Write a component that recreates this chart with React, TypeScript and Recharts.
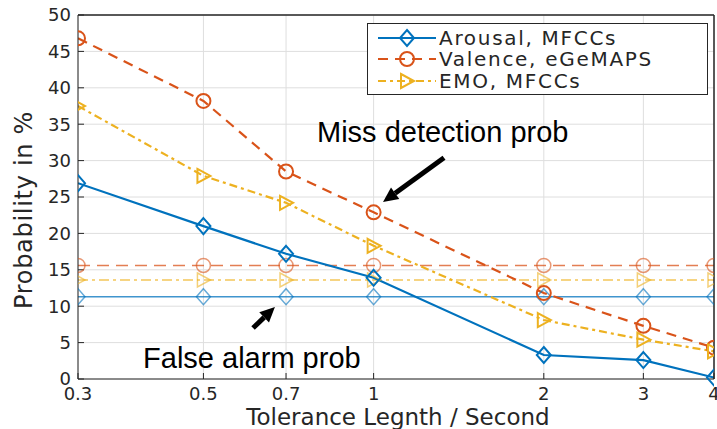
import React from 'react';
import {
  ComposedChart,
  Line,
  XAxis,
  YAxis,
  CartesianGrid,
  Legend,
  ReferenceLine,
  ReferenceDot,
} from 'recharts';

// tolerance length in seconds (x axis is logarithmic)
const tolerance = [0.3, 0.5, 0.7, 1, 2, 3, 4];

// miss detection probability in %
const arousalMiss = [26.9, 21.0, 17.2, 13.9, 3.3, 2.6, 0.2];
const valenceMiss = [46.8, 38.2, 28.5, 22.9, 11.8, 7.3, 4.3];
const emoMiss = [37.5, 27.9, 24.2, 18.3, 8.1, 5.4, 3.8];

// false alarm probability in %
const arousalFalse = [11.3, 11.3, 11.3, 11.3, 11.3, 11.3, 11.3];
const valenceFalse = [15.6, 15.6, 15.6, 15.6, 15.6, 15.6, 15.6];
const emoFalse = [13.6, 13.6, 13.6, 13.6, 13.6, 13.6, 13.6];

const yTicks = [0, 5, 10, 15, 20, 25, 30, 35, 40, 45, 50];
const seriesNames = ['Arousal, MFCCs', 'Valence, eGeMAPS', 'EMO, MFCCs'];

// annotations (data coordinates)
const missText = { x: 0.794, y: 32.6, label: 'Miss detection prob' };
const falseText = { x: 0.391, y: 1.5, label: 'False alarm prob' };
const missArrow = [{ x: 1.332, y: 30.4 }, { x: 1.039, y: 24.3 }];
const falseArrow = [{ x: 0.612, y: 7.0 }, { x: 0.669, y: 9.9 }];

const BLUE = '#0072BD';
const ORANGE = '#D95319';
const YELLOW = '#EDB120';
const AXIS = '#262626';
const FONT = '"DejaVu Sans", sans-serif';

const data = tolerance.map((t, i) => ({
  t,
  am: arousalMiss[i],
  vm: valenceMiss[i],
  em: emoMiss[i],
  af: arousalFalse[i],
  vf: valenceFalse[i],
  ef: emoFalse[i],
}));

type MarkerProps = { cx: number; cy: number; color: string; width: number; opacity?: number };

const Diamond = ({ cx, cy, color, width, opacity = 1 }: MarkerProps) => (
  <polygon
    points={`${cx},${cy - 8} ${cx + 7},${cy} ${cx},${cy + 8} ${cx - 7},${cy}`}
    fill="none"
    stroke={color}
    strokeWidth={width}
    strokeOpacity={opacity}
  />
);

const Circle = ({ cx, cy, color, width, opacity = 1 }: MarkerProps) => (
  <circle cx={cx} cy={cy} r={7} fill="none" stroke={color} strokeWidth={width} strokeOpacity={opacity} />
);

const Triangle = ({ cx, cy, color, width, opacity = 1 }: MarkerProps) => (
  <polygon
    points={`${cx - 6},${cy - 7} ${cx + 7},${cy} ${cx - 6},${cy + 7}`}
    fill="none"
    stroke={color}
    strokeWidth={width}
    strokeOpacity={opacity}
  />
);

const dotOf = (Shape: any, color: string, width: number, opacity?: number) => (p: any) => (
  <Shape key={p.index} cx={p.cx} cy={p.cy} color={color} width={width} opacity={opacity} />
);

const arrowShape = (p: any) => {
  const { x1, y1, x2, y2 } = p;
  const dx = x2 - x1;
  const dy = y2 - y1;
  const len = Math.sqrt(dx * dx + dy * dy);
  const ux = dx / len;
  const uy = dy / len;
  const head = 15;
  const hw = 7;
  const bx = x2 - ux * head;
  const by = y2 - uy * head;
  return (
    <g>
      <line x1={x1} y1={y1} x2={bx} y2={by} stroke="#000" strokeWidth={5} />
      <polygon
        points={`${x2},${y2} ${bx - uy * hw},${by + ux * hw} ${bx + uy * hw},${by - ux * hw}`}
        fill="#000"
      />
    </g>
  );
};

const textShape = (label: string) => (p: any) => (
  <text x={p.cx} y={p.cy} fontSize={29} fontFamily='"Liberation Sans", Arial, sans-serif' fill="#000">
    {label}
  </text>
);

const legendRows = [
  { name: seriesNames[0], color: BLUE, dash: undefined, Shape: Diamond },
  { name: seriesNames[1], color: ORANGE, dash: '10 7', Shape: Circle },
  { name: seriesNames[2], color: YELLOW, dash: '8 4 3 4', Shape: Triangle },
];

const renderLegend = () => (
  <div
    style={{
      width: 341,
      height: 72,
      boxSizing: 'border-box',
      border: `1px solid ${AXIS}`,
      background: '#fff',
      paddingTop: 3,
    }}
  >
    {legendRows.map((r) => (
      <div key={r.name} style={{ display: 'flex', alignItems: 'center', height: 21.5 }}>
        <svg width={71} height={22} style={{ display: 'block' }}>
          <line x1={10} y1={11} x2={68} y2={11} stroke={r.color} strokeWidth={2} strokeDasharray={r.dash} />
          <r.Shape cx={39} cy={11} color={r.color} width={2} />
        </svg>
        <span style={{ fontFamily: FONT, fontSize: 20, letterSpacing: 1.7, color: AXIS, lineHeight: '22px' }}>
          {r.name}
        </span>
      </div>
    ))}
  </div>
);

const tickStyle = { fontSize: 18, fontFamily: FONT, fill: AXIS };

export default function App() {
  return (
    <div style={{ position: 'absolute', left: 0, top: 0, background: '#fff' }}>
      <ComposedChart width={717} height={429} data={data} margin={{ top: 14, right: 2, left: 0, bottom: 0 }}>
        <CartesianGrid stroke="#dedede" strokeWidth={1} />
        <XAxis
          dataKey="t"
          type="number"
          scale="log"
          domain={[0.3, 4]}
          allowDataOverflow
          ticks={tolerance}
          height={50}
          stroke={AXIS}
          tickSize={-6}
          tickMargin={14}
          tick={tickStyle}
          interval={0}
          label={(p: any) => (
            <text
              x={p.viewBox.x + p.viewBox.width / 2 + 2}
              y={p.viewBox.y + 46}
              textAnchor="middle"
              fontSize={23}
              fontFamily={FONT}
              fill={AXIS}
            >
              Tolerance Legnth / Second
            </text>
          )}
        />
        <XAxis
          xAxisId="top"
          orientation="top"
          dataKey="t"
          type="number"
          scale="log"
          domain={[0.3, 4]}
          allowDataOverflow
          ticks={tolerance}
          height={1}
          stroke={AXIS}
          tickSize={-6}
          tick={false}
          interval={0}
        />
        <YAxis
          domain={[0, 50]}
          ticks={yTicks}
          width={78}
          stroke={AXIS}
          tickSize={-6}
          tickMargin={13}
          tick={tickStyle}
          interval={0}
          label={(p: any) => {
            const x = p.viewBox.x + 32;
            const y = p.viewBox.y + p.viewBox.height / 2 + 13;
            return (
              <text
                x={x}
                y={y}
                transform={`rotate(-90, ${x}, ${y})`}
                textAnchor="middle"
                fontSize={24}
                letterSpacing={0.7}
                fontFamily={FONT}
                fill={AXIS}
              >
                Probability in %
              </text>
            );
          }}
        />
        <YAxis
          yAxisId="right"
          orientation="right"
          domain={[0, 50]}
          ticks={yTicks}
          width={1}
          stroke={AXIS}
          tickSize={-6}
          tick={false}
          interval={0}
        />

        {/* false alarm lines */}
        <Line
          dataKey="af"
          stroke={BLUE}
          strokeWidth={1.5}
          strokeOpacity={0.75}
          dot={dotOf(Diamond, BLUE, 1.5, 0.6)}
          activeDot={false}
          isAnimationActive={false}
        />
        <Line
          dataKey="vf"
          stroke={ORANGE}
          strokeWidth={1.5}
          strokeOpacity={0.75}
          strokeDasharray="12 7"
          dot={dotOf(Circle, ORANGE, 1.5, 0.6)}
          activeDot={false}
          isAnimationActive={false}
        />
        <Line
          dataKey="ef"
          stroke={YELLOW}
          strokeWidth={1.5}
          strokeOpacity={0.75}
          strokeDasharray="10 4 3 4"
          dot={dotOf(Triangle, YELLOW, 1.5, 0.6)}
          activeDot={false}
          isAnimationActive={false}
        />

        {/* miss detection lines */}
        <Line
          dataKey="am"
          stroke={BLUE}
          strokeWidth={2.2}
          dot={dotOf(Diamond, BLUE, 2)}
          activeDot={false}
          isAnimationActive={false}
        />
        <Line
          dataKey="vm"
          stroke={ORANGE}
          strokeWidth={2.2}
          strokeDasharray="10 7"
          dot={dotOf(Circle, ORANGE, 2)}
          activeDot={false}
          isAnimationActive={false}
        />
        <Line
          dataKey="em"
          stroke={YELLOW}
          strokeWidth={2.2}
          strokeDasharray="8 4 3 4"
          dot={dotOf(Triangle, YELLOW, 2)}
          activeDot={false}
          isAnimationActive={false}
        />

        <ReferenceLine y={50} stroke={AXIS} ifOverflow="visible" />
        <ReferenceLine x={4} stroke={AXIS} ifOverflow="visible" />

        <ReferenceLine segment={missArrow} shape={arrowShape} ifOverflow="visible" />
        <ReferenceLine segment={falseArrow} shape={arrowShape} ifOverflow="visible" />
        <ReferenceDot x={missText.x} y={missText.y} shape={textShape(missText.label)} ifOverflow="visible" />
        <ReferenceDot x={falseText.x} y={falseText.y} shape={textShape(falseText.label)} ifOverflow="visible" />

        <Legend
          layout="horizontal"
          verticalAlign="middle"
          align="center"
          content={renderLegend}
          wrapperStyle={{ left: 367, top: 23, width: 341, height: 72 }}
        />
      </ComposedChart>
    </div>
  );
}
